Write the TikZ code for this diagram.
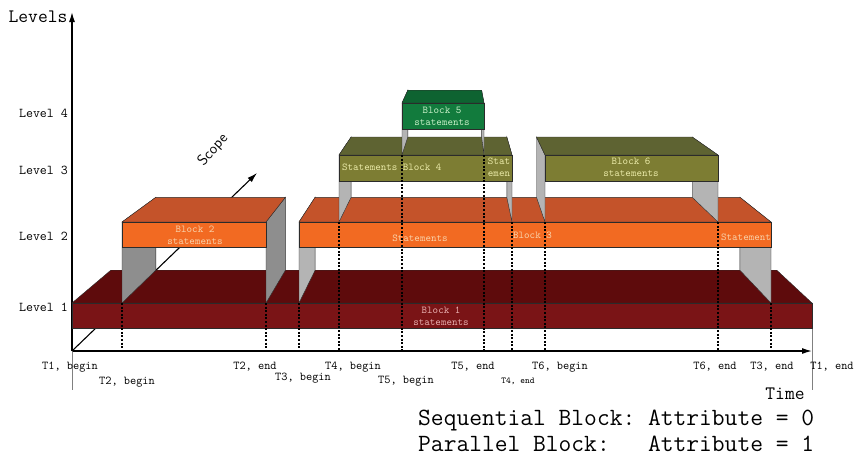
\documentclass[tikz,border=0pt]{standalone}
\usepackage{tikz}
\usetikzlibrary{arrows.meta,calc}

\definecolor{redface}{HTML}{7A1416}
\definecolor{redtop}{HTML}{5E0B0C}
\definecolor{orangeface}{HTML}{F26A22}
\definecolor{orangetop}{HTML}{C4532A}
\definecolor{oliveface}{HTML}{7D7D33}
\definecolor{olivetop}{HTML}{5E6332}
\definecolor{greenface}{HTML}{127B3D}
\definecolor{greentop}{HTML}{0E6331}
\definecolor{walldark}{HTML}{8E8E8E}
\definecolor{walllight}{HTML}{B4B4B4}
\definecolor{edge}{HTML}{2B2B2B}
\definecolor{redtxt}{HTML}{E8AFAF}
\definecolor{orangetxt}{HTML}{F9D2AA}
\definecolor{olivetxt}{HTML}{EAEAA8}
\definecolor{greentxt}{HTML}{C8F0C8}

% slab: name, x left, x right, y top, y bottom, face colour, top colour
\newcommand{\blockslab}[7]{%
  \coordinate (#1-tl) at (#2,#4);
  \coordinate (#1-tr) at (#3,#4);
  \coordinate (#1-br) at (#3,#5);
  \filldraw[fill=#7, draw=edge] (#1-tl) -- ($(#1-tl)!0.1!(V)$) -- ($(#1-tr)!0.1!(V)$) -- (#1-tr) -- cycle;
  \filldraw[fill=#6, draw=edge] (#1-tl) rectangle (#1-br);
}
% leg: x, y top, y bottom, colour
\newcommand{\blockleg}[4]{%
  \filldraw[fill=#4, draw=edge] (#1,#2) -- ($(#1,#2)!0.1!(V)$) -- ($(#1,#3)!0.1!(V)$) -- (#1,#3) -- cycle;
}

\begin{document}
\frenchspacing
\begin{tikzpicture}[x=1pt, y=-1pt, >={Latex[length=10pt,width=6pt]},
  axis/.style={line width=1.3pt},
  timeline/.style={black, line width=1.3pt, dash pattern=on 2pt off 1.6pt},
  lvl/.style={anchor=east, inner sep=0pt, font=\ttfamily\fontsize{13.5}{15}\selectfont},
  tlab/.style={inner sep=0pt, font=\ttfamily\fontsize{12}{14}\selectfont},
  btext/.style={align=center, inner sep=0pt, font=\ttfamily\fontsize{10.5}{12}\selectfont},
  legend/.style={anchor=west, inner sep=0pt, font=\ttfamily\fontsize{24.8}{28}\selectfont}]
  \useasboundingbox (0,0) rectangle (856,456);
  \coordinate (V) at (460,-25);
  \coordinate (O) at (72,351);
  \coordinate (ytip) at (72,12);
  \coordinate (xtip) at (812,351);
  \coordinate (ylow) at (72,390);
  \coordinate (stip) at (257,173);

  % axes
  \draw[axis,->] (O) -- (xtip);
  \draw[axis,->] (O) -- (ytip);
  \draw[gray, line width=0.8pt] (O) -- (ylow);
  \draw[gray, line width=0.8pt] (812,328) -- (812,390);
  \draw[line width=1.1pt,->] (O) -- (stip);
  \node[font=\sffamily\fontsize{15}{17}\selectfont, rotate=48] (scope) at (213,150) {Scope};
  \node[inner sep=0pt, font=\ttfamily\fontsize{19}{21}\selectfont] (levels) at (38,17) {Levels};
  \node[lvl] (lv4) at (68,113) {Level 4};
  \node[lvl] (lv3) at (68,170) {Level 3};
  \node[lvl] (lv2) at (68,236) {Level 2};
  \node[lvl] (lv1) at (68,307) {Level 1};

  % level 1
  \blockslab{b1}{72}{812}{303}{328}{redface}{redtop}
  % level 2
  \blockleg{122}{222}{303}{walldark}
  \blockleg{266}{222}{303}{walldark}
  \blockleg{299}{222}{303}{walllight}
  \blockleg{771}{222}{303}{walllight}
  \blockslab{b2}{122}{266}{222}{247}{orangeface}{orangetop}
  \blockslab{b3}{299}{771}{222}{247}{orangeface}{orangetop}
  % level 3
  \blockleg{339}{155}{222}{walllight}
  \blockleg{512}{155}{222}{walllight}
  \blockleg{545}{155}{222}{walllight}
  \blockleg{718}{155}{222}{walllight}
  \blockslab{b4}{339}{512}{155}{181}{oliveface}{olivetop}
  \blockslab{b6}{545}{718}{155}{181}{oliveface}{olivetop}
  % level 4
  \blockleg{402}{103}{155}{walllight}
  \blockleg{484}{103}{155}{walllight}
  \blockslab{b5}{402}{484}{103}{129}{greenface}{greentop}

  % block texts
  \node[btext, text=redtxt] (b1txt) at (441,316) {Block 1\\statements};
  \node[btext, text=orangetxt] (b2txt) at (195,235) {Block 2\\statements};
  \node[btext, text=orangetxt] (b3txt) at (420,238) {Statements};
  \node[btext, text=orangetxt, anchor=west] (b3name) at (513,235) {Block 3};
  \node[btext, text=orangetxt, anchor=west] (b3end) at (721,237) {Statement};
  \node[btext, text=olivetxt, anchor=west] (b4txt) at (342,167) {Statements Block 4};
  \node[btext, text=olivetxt] (b4end) at (499,167) {Stat\\emen};
  \node[btext, text=greentxt] (b5txt) at (442,116) {Block 5\\statements};
  \node[btext, text=olivetxt] (b6txt) at (631,167) {Block 6\\statements};

  % time marks
  \foreach \x/\ytop in {122/303, 266/303, 299/303, 339/222, 402/155, 484/155,
                        512/222, 545/222, 718/222, 771/303}
    \draw[timeline] (\x,\ytop) -- (\x,351);

  \node[tlab] (t1b) at (70,367) {T1, begin};
  \node[tlab] (t2b) at (127,382) {T2, begin};
  \node[tlab] (t2e) at (255,367) {T2, end};
  \node[tlab] (t3b) at (303,378) {T3, begin};
  \node[tlab] (t4b) at (353,367) {T4, begin};
  \node[tlab] (t5b) at (406,381) {T5, begin};
  \node[tlab] (t5e) at (473,367) {T5, end};
  \node[tlab, font=\ttfamily\fontsize{9}{10}\selectfont] (t4e) at (518,381) {T4, end};
  \node[tlab] (t6b) at (560,367) {T6, begin};
  \node[tlab] (t6e) at (715,367) {T6, end};
  \node[tlab] (t3e) at (772,367) {T3, end};
  \node[tlab] (t1e) at (832,367) {T1, end};
  \node[inner sep=0pt, font=\ttfamily\fontsize{19}{21}\selectfont] (time) at (785,394) {Time};

  % legend
  \node[legend] (seq) at (418,420) {Sequential Block: Attribute = 0};
  \node[legend] (par) at (418,444) {Parallel Block:\hphantom{xx} Attribute = 1};
\end{tikzpicture}
\end{document}
